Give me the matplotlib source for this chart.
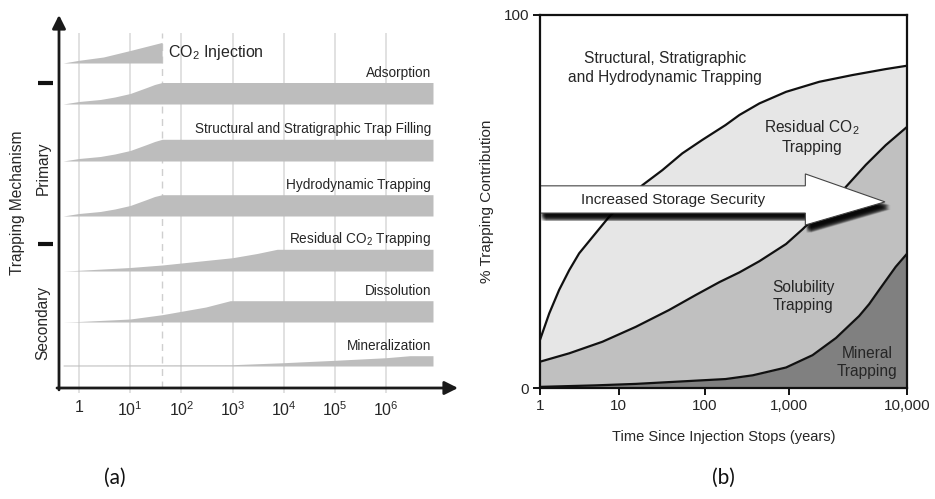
import numpy as np
import matplotlib.pyplot as plt
import matplotlib.patheffects as pe
from matplotlib.patches import Polygon
from matplotlib.transforms import blended_transform_factory

plt.rcParams['font.family'] = ['Liberation Sans', 'DejaVu Sans']
plt.rcParams['mathtext.default'] = 'regular'

# ---------------- (a) trapping mechanisms vs time ----------------
mech_labels = ["CO$_2$ Injection", "Adsorption",
               "Structural and Stratigraphic Trap Filling",
               "Hydrodynamic Trapping", "Residual CO$_2$ Trapping",
               "Dissolution", "Mineralization"]
# time (years) and relative band thickness for each mechanism
mech_years = [
    [0.49, 1, 3, 10, 42],
    [0.49, 1, 2.6, 5, 10, 21, 30, 42, 8.2e6],
    [0.49, 1, 2.6, 5, 10, 21, 30, 42, 8.2e6],
    [0.49, 1, 2.6, 5, 10, 21, 30, 42, 8.2e6],
    [0.49, 1, 10, 42, 100, 1000, 3000, 7400, 8.2e6],
    [0.49, 1, 10, 42, 100, 300, 900, 8.2e6],
    [0.49, 1000, 1e4, 1e5, 1e6, 2.9e6, 8.2e6],
]
mech_level = [
    [0, 2.7, 6, 12.5, 20.6],
    [0, 2.5, 4.5, 7, 10.5, 16.5, 19.5, 21.5, 21.5],
    [0, 2.5, 4.5, 7, 10.5, 16.5, 19.5, 21.7, 21.7],
    [0, 2.5, 4.5, 7, 10.5, 16.5, 19.5, 21.3, 21.3],
    [0, 0.7, 3.5, 6, 8, 13.3, 17.5, 21.7, 21.7],
    [0, 0.5, 3, 7.3, 10.7, 15, 21.3, 21.3],
    [1.0, 1.3, 3.3, 5.7, 8.3, 10.3, 10.3],
]
injection_end = 42
decade_ticks = [1, 10, 1e2, 1e3, 1e4, 1e5, 1e6]
decade_labels = ["1", "10$^1$", "10$^2$", "10$^3$", "10$^4$", "10$^5$", "10$^6$"]

# ---------------- (b) trapping contribution (%) ----------------
top_years = [1, 1.31, 1.75, 2.35, 3.14, 4.65, 7.54, 18.9, 32.2, 55, 94, 177,
             258, 444, 915, 1800, 3440, 6590, 10000]
top_pct = [12.9, 20.0, 26.3, 31.6, 36.1, 40.5, 45.9, 54.4, 58.4, 62.9, 66.5, 70.5,
           73.2, 76.3, 79.4, 82.1, 83.9, 85.5, 86.4]
mid_years = [1, 2.35, 6.2, 15.8, 38.5, 78.5, 150, 258, 444, 915, 1300, 3020,
             4460, 6590, 10000]
mid_pct = [7.05, 9.3, 12.4, 16.4, 20.9, 24.9, 28.4, 31.0, 34.0, 38.6, 42.6, 53.9,
           59.8, 65.1, 70.0]
low_years = [1, 5, 15.8, 177, 370, 915, 1575, 2490, 3920, 4770, 5800, 8020, 10000]
low_pct = [0.3, 0.7, 1.1, 2.4, 3.4, 5.5, 8.8, 13.4, 19.3, 22.5, 26.3, 32.5, 36.0]
time_ticks = [1, 10, 100, 1000, 10000]
time_labels = ["1", "10", "100", "1,000", "10,000"]

W, H = 935, 499
fig = plt.figure(figsize=(W / 100, H / 100), dpi=100)
txt = '#262626'


def px_box(x0, y0, x1, y1):
    return [x0 / W, 1 - y1 / H, (x1 - x0) / W, (y1 - y0) / H]


# ---- panel (a) ----
ax = fig.add_axes(px_box(59, 15, 458, 388))
ax.set_xscale('log')
ax.set_xlim(10 ** (-20 / 51.2), 10 ** (379 / 51.2))
ax.set_ylim(0, 373)
for s in ax.spines.values():
    s.set_visible(False)
ax.set_yticks([])
ax.set_xticks(decade_ticks)
ax.set_xticklabels(decade_labels, fontsize=11.5, color=txt)
ax.minorticks_off()
ax.tick_params(axis='x', length=0, pad=9)

ax.vlines(decade_ticks, -5, 355, color='#dcdcdc', lw=1.2, zorder=0, clip_on=False)
ax.vlines([injection_end], 0, 355, color='#cfcfcf', lw=1.0, linestyles=(0, (5, 4)), zorder=0)

track_base = [325, 284, 227, 172, 117, 66, 22]
label_x = 7.5e6
for i, (yrs, lev) in enumerate(zip(mech_years, mech_level)):
    base = track_base[i]
    lev = np.array(lev)
    ax.fill_between(yrs, base, base + lev, color='#bdbdbd', lw=0, zorder=2)
    if i == 0:
        ax.text(55, base + 10, mech_labels[i], fontsize=11.5, color=txt,
                va='center', ha='left')
    else:
        ax.text(label_x, base + lev.max() + 10, mech_labels[i], fontsize=9.8,
                color=txt, va='center', ha='right')

ax.annotate('', xy=(0, 1), xytext=(0, -0.005), xycoords='axes fraction',
            arrowprops=dict(arrowstyle='-|>', color='#1a1a1a', lw=2,
                            mutation_scale=20, shrinkA=0, shrinkB=0))
ax.annotate('', xy=(1, 0), xytext=(-0.005, 0), xycoords='axes fraction',
            arrowprops=dict(arrowstyle='-|>', color='#1a1a1a', lw=2,
                            mutation_scale=20, shrinkA=0, shrinkB=0))

# group separators on the left
btr = blended_transform_factory(ax.transAxes, ax.transData)
for yy in (305, 144):
    ax.plot([-0.053, -0.015], [yy, yy], color='#111', lw=3, transform=btr,
            clip_on=False, solid_capstyle='butt')
fig.text(18 / W, 1 - 203 / H, "Trapping Mechanism", rotation=90, fontsize=11.2,
         color=txt, ha='center', va='center')
fig.text(43 / W, 1 - 168 / H, "Primary", rotation=90, fontsize=11.2,
         color=txt, ha='center', va='center')
fig.text(43 / W, 1 - 323 / H, "Secondary", rotation=90, fontsize=11.2,
         color=txt, ha='center', va='center')

# ---- panel (b) ----
ax2 = fig.add_axes(px_box(540, 15, 907, 388))
decade_px = [0, 79, 165, 250, 368]


def fwd(x):
    return np.interp(np.log10(np.clip(x, 1e-6, None)), [0, 1, 2, 3, 4], decade_px)


def inv(y):
    return 10 ** np.interp(y, decade_px, [0, 1, 2, 3, 4])


ax2.set_xscale('function', functions=(fwd, inv))
ax2.set_xlim(1, 10000)
ax2.set_ylim(0, 100)

ax2.fill_between(top_years, 0, top_pct, color='#e6e6e6', lw=0, zorder=1)
ax2.fill_between(mid_years, 0, mid_pct, color='#c0c0c0', lw=0, zorder=2)
ax2.fill_between(low_years, 0, low_pct, color='#808080', lw=0, zorder=3)
for yrs, pct in ((top_years, top_pct), (mid_years, mid_pct), (low_years, low_pct)):
    ax2.plot(yrs, pct, color='#111', lw=1.6, zorder=4, solid_joinstyle='round')

for s in ax2.spines.values():
    s.set_linewidth(1.6)
    s.set_color('#111')
    s.set_zorder(10)
ax2.set_xticks(time_ticks)
ax2.set_xticklabels(time_labels)
ax2.xaxis.set_minor_locator(plt.NullLocator())
ax2.set_yticks([0, 100])
ax2.tick_params(direction='out', length=5, width=1.3, labelsize=11,
                labelcolor=txt, pad=3)
ax2.set_xlabel("Time Since Injection Stops (years)", fontsize=10.5, color=txt,
               labelpad=12)
ax2.set_ylabel("% Trapping Contribution", fontsize=11, color=txt, labelpad=7)

# "Increased Storage Security" arrow with soft drop shadow
arrow_pts = [(0, 0.469), (0.723, 0.469), (0.723, 0.437), (0.940, 0.499),
             (0.723, 0.574), (0.723, 0.542), (0, 0.542)]
shadow = []
for ox in (-1.6, -0.8, 0, 0.8, 1.6):
    for oy in (-1.6, -0.8, 0, 0.8, 1.6):
        shadow.append(pe.SimplePatchShadow(offset=(2.5 + ox, -4 + oy),
                                           shadow_rgbFace='black', alpha=0.1))
shadow.append(pe.Normal())
arrow = Polygon(arrow_pts, closed=True, transform=ax2.transAxes,
                facecolor='white', edgecolor='#444', lw=0.8, zorder=6)
arrow.set_path_effects(shadow)
ax2.add_patch(arrow)
ax2.text(0.362, 0.504, "Increased Storage Security", transform=ax2.transAxes,
         fontsize=11, color=txt, ha='center', va='center', zorder=7)

region_text = dict(fontsize=11.2, color=txt, ha='center', va='center',
                   linespacing=1.3, transform=ax2.transAxes, zorder=7)
ax2.text(0.341, 0.858, "Structural, Stratigraphic\nand Hydrodynamic Trapping", **region_text)
ax2.text(0.741, 0.674, "Residual CO$_2$\nTrapping", **region_text)
ax2.text(0.717, 0.245, "Solubility\nTrapping", **region_text)
ax2.text(0.891, 0.068, "Mineral\nTrapping", **region_text)

fig.text(115 / W, 1 - 478 / H, "(a)", fontsize=15, family='Lato', color='#111',
         ha='center', va='center')
fig.text(723 / W, 1 - 478 / H, "(b)", fontsize=15, family='Lato', color='#111',
         ha='center', va='center')

fig.savefig('out.png', dpi=100, facecolor='white')
